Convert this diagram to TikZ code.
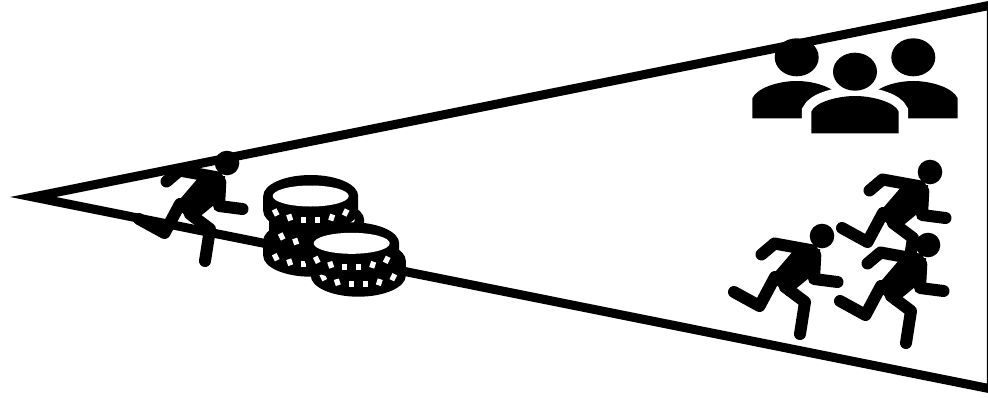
\documentclass[tikz,border=0pt]{standalone}
\tikzset{
  limb/.style={line width=12pt,line cap=round,line join=round,black},
  wedge/.style={line width=9pt,line join=miter,miter limit=10,black},
  tick/.style={line width=5.2pt,white},
}
\newcommand{\runner}[2]{%
  \begin{scope}[shift={(#1,#2)}]
    \fill[black] (0,0) circle[radius=12.3];
    \draw[limb] (-60.5,18.5) -- (-47.5,7.5) -- (-10,14.3);
    \draw[limb] (-6.7,19.3) -- (-8,43) -- (15.5,46);
    \fill[black] (-28,14) -- (-2,13) -- (-2,33) -- (-35,60) -- (-52,42) -- cycle;
    \draw[limb] (-47,41) -- (-62.5,70) -- (-88,56);
    \draw[limb] (-37,51) -- (-17,66) -- (-22,98);
  \end{scope}}
\newcommand{\coin}[2]{%
  \begin{scope}[shift={(#1,#2)}]
    \fill[black] (-47.5,0) arc[start angle=180,end angle=360,x radius=47.5,y radius=21]
      -- (47.5,15) arc[start angle=0,end angle=180,x radius=47.5,y radius=21] -- cycle;
    \fill[white] (0,0) ellipse[x radius=38,y radius=10.5];
    \foreach \tx/\ty/\sl in {-35/16.5/-1.5,-21/21.5/-1,-7/23.5/0,7/23.5/0,21/21.5/1,35/16.5/1.5}
      \draw[tick] (\tx+\sl,\ty-3) -- (\tx-\sl,\ty+3);
  \end{scope}}
\begin{document}
\begin{tikzpicture}[x=1pt,y=-1pt]
  \clip (0,0) rectangle (988,397);
  \fill[white] (0,0) rectangle (988,397);
  % people
  \fill[black] (752.3,118.3) -- (752.3,98.3) .. controls (757,88) and (778,81) .. (796.7,81)
    .. controls (815,81) and (836,88) .. (840,98.3) -- (840,118.3) -- cycle;
  \fill[black] (957.7,118.3) -- (957.7,98.3) .. controls (953,88) and (932,81) .. (913.3,81)
    .. controls (895,81) and (874,88) .. (870,98.3) -- (870,118.3) -- cycle;
  \draw[white,line width=19pt,fill=black] (811.3,133.3) -- (811.3,111.7) .. controls (815,102) and (838,96) .. (855,96)
    .. controls (872,96) and (895,102) .. (898.7,111.7) -- (898.7,133.3) -- cycle;
  \fill[black] (811.3,133.3) -- (811.3,111.7) .. controls (815,102) and (838,96) .. (855,96)
    .. controls (872,96) and (895,102) .. (898.7,111.7) -- (898.7,133.3) -- cycle;
  \fill[black] (796.7,57.3) ellipse[x radius=22,y radius=19];
  \fill[black] (913.3,57.3) ellipse[x radius=22,y radius=19];
  \fill[black] (855,71.7) ellipse[x radius=22,y radius=19];
  % wedge
  \draw[wedge] (33,197) -- (991.3,5) -- (991.3,389) -- cycle;
  % left runner
  \runner{227}{163}
  % coins
  \coin{310.7}{240.7}
  \coin{316.7}{220}
  \coin{310.7}{196}
  \coin{358.3}{260.7}
  \coin{351.7}{243.3}
  % runners
  \runner{930}{172}
  \runner{928}{245}
  \runner{822}{236}
\end{tikzpicture}
\end{document}
